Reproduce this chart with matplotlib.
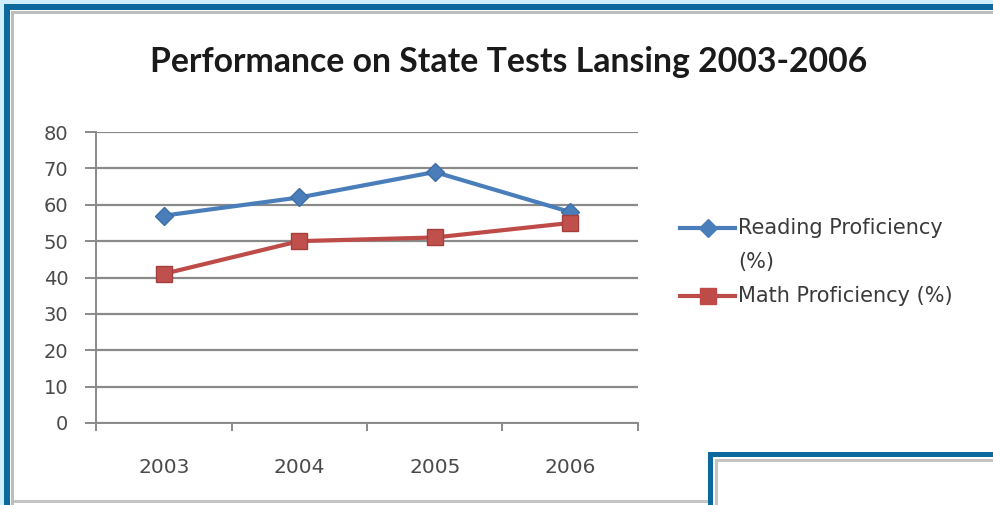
import matplotlib.pyplot as plt
from matplotlib.patches import Rectangle
from matplotlib.lines import Line2D

years = ['2003', '2004', '2005', '2006']
reading = [57, 62, 69, 58]
math_prof = [41, 50, 51, 55]
series_labels = ['Reading Proficiency\n(%)', 'Math Proficiency (%)']

W, H = 993, 505
plt.rcParams['font.family'] = ['Lato', 'DejaVu Sans']
small_font = ['DejaVu Sans']

fig = plt.figure(figsize=(W / 100, H / 100), dpi=100)
fig.patch.set_facecolor('white')


def box(x, y, w, h, color, z=0):
    # pixel box (top-left origin) -> figure fraction
    r = Rectangle((x / W, 1 - (y + h) / H), w / W, h / H, transform=fig.transFigure,
                  facecolor=color, edgecolor='none', zorder=z)
    fig.patches.append(r)


# page frame
box(0, 0, W, 4, '#cdeefa')
box(0, 0, 4, H, '#cdeefa')
box(4, 4, W - 4, 6, '#0b699e')
box(4, 4, 6, H - 4, '#0b699e')
box(11, 11, W - 11, 3, '#bdbdbd')
box(11, 11, 3, H - 11, '#bdbdbd')
box(14, 500, W - 14, 3, '#c4c4c4')
# second panel peeking in at bottom right
box(708, 452, W - 708, H - 452, '#0b699e')
box(713, 457, W - 713, H - 457, 'white')
box(715, 459, W - 715, 3, '#c4c4c4')
box(715, 459, 3, H - 459, '#c4c4c4')

ax = fig.add_axes([96 / W, 1 - 423 / H, (638 - 96) / W, (423 - 132) / H])
ax.set_facecolor('none')
x = list(range(len(years)))
ax.plot(x, reading, color='#4a7ebb', lw=3, marker='D', ms=9,
        markerfacecolor='#4a7ebb', markeredgecolor='#3d6ea8', zorder=3)
ax.plot(x, math_prof, color='#be4b48', lw=3, marker='s', ms=12,
        markerfacecolor='#c0504d', markeredgecolor='#a43f3c', zorder=3)

ax.set_xlim(-0.5, len(years) - 0.5)
ax.set_ylim(0, 80)
ax.set_yticks(range(0, 81, 10))
ax.set_xticks(x)
ax.set_xticklabels(years, family=small_font)
ax.set_yticklabels([str(v) for v in range(0, 81, 10)], family=small_font)
ax.set_xticks([i - 0.5 for i in range(len(years) + 1)], minor=True)
ax.grid(axis='y', color='#8a8a8a', lw=1.6)
ax.set_axisbelow(True)
for s in ['top', 'right']:
    ax.spines[s].set_visible(False)
for s in ['left', 'bottom']:
    ax.spines[s].set_color('#8a8a8a')
    ax.spines[s].set_linewidth(1.4)
ax.tick_params(axis='y', length=8, width=1.4, color='#8a8a8a', pad=12,
               labelsize=14, labelcolor='#4a4a4a')
ax.tick_params(axis='x', which='major', length=0, pad=25, labelsize=14.5, labelcolor='#4a4a4a')
ax.tick_params(axis='x', which='minor', length=6, width=1.4, color='#8a8a8a')

fig.text(509 / W, 1 - 62 / H, 'Performance on State Tests Lansing 2003-2006',
         ha='center', va='center', fontsize=24.3, fontweight='bold', color='#1a1a1a')

# legend
leg_rows = [(228, '#4a7ebb', 'D', 9, series_labels[0]), (296, '#be4b48', 's', 12, series_labels[1])]
for y, c, m, ms, lab in leg_rows:
    yf = 1 - y / H
    fig.add_artist(Line2D([680 / W, 735 / W], [yf, yf], color=c, lw=3, transform=fig.transFigure))
    fig.add_artist(Line2D([707.5 / W], [yf], color=c, marker=m, ms=ms, transform=fig.transFigure))
    for k, t in enumerate(lab.split('\n')):
        fig.text(738 / W, 1 - (y + 34 * k) / H, t, ha='left', va='center',
                 fontsize=15, color='#3a3a3a', family=small_font)

fig.savefig('out.png', dpi=100)
